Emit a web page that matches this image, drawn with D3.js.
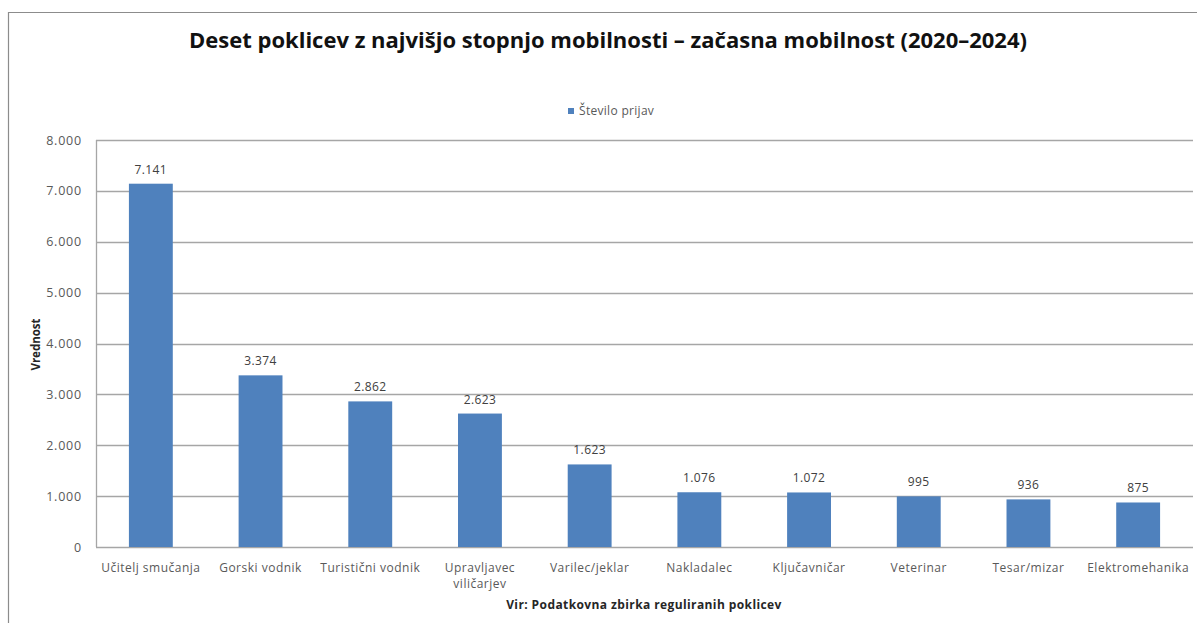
<!DOCTYPE html>
<html>
<head>
<meta charset="utf-8">
<script src="https://cdn.jsdelivr.net/npm/d3@7"></script>
<style>
  body { margin: 0; background: #fff; }
  svg text { font-family: "Open Sans", "Noto Sans", sans-serif; }
</style>
</head>
<body>
<div id="chart"></div>
<script>

// data
const categories = ["Učitelj smučanja", "Gorski vodnik", "Turistični vodnik", "Upravljavec viličarjev",
	"Varilec/jeklar", "Nakladalec", "Ključavničar", "Veterinar", "Tesar/mizar", "Elektromehanika"];
const values = [7141, 3374, 2862, 2623, 1623, 1076, 1072, 995, 936, 875];
const yTicks = [0, 1000, 2000, 3000, 4000, 5000, 6000, 7000, 8000];
const seriesName = "Število prijav";
const titleText = "Deset poklicev z najvišjo stopnjo mobilnosti – začasna mobilnost (2020–2024)";
const yLabel = "Vrednost";
const sourceText = "Vir: Podatkovna zbirka reguliranih poklicev";

const W = 1197, H = 623;
const margin = { top: 140, right: 4, bottom: 76, left: 96 };
const width = W - margin.left - margin.right;
const height = H - margin.top - margin.bottom;

const fmt = v => d3.format(",")(v).replace(/,/g, ".");

let svg = d3.select("#chart").append("svg")
	.attr("width", W)
	.attr("height", H);

// chart frame (left + top edges visible)
svg.append("path")
	.attr("d", "M8.5," + H + "V12.5H" + W)
	.attr("fill", "none")
	.attr("stroke", "#8c8c8c")
	.attr("stroke-width", 1.2);

svg.append("text")
	.attr("x", 608)
	.attr("y", 48)
	.attr("text-anchor", "middle")
	.attr("font-size", 22)
	.attr("font-weight", "bold")
	.attr("fill", "#111")
	.text(titleText);

// legend
svg.append("rect")
	.attr("x", 568).attr("y", 108)
	.attr("width", 6).attr("height", 6)
	.attr("fill", "#4f81bd");
svg.append("text")
	.attr("x", 579).attr("y", 115)
	.attr("font-size", 12)
	.attr("letter-spacing", 0.3)
	.attr("fill", "#595959")
	.text(seriesName);

let g = svg.append("g")
	.attr("transform", "translate(" + margin.left + "," + margin.top + ")");

let x = d3.scaleBand()
	.domain(categories)
	.range([0, width])
	.paddingInner(0.6)
	.paddingOuter(0.3);

let y = d3.scaleLinear()
	.domain([0, 8000])
	.range([height, 0]);

// gridlines
g.selectAll(".grid")
	.data(yTicks)
	.enter()
	.append("line")
	.attr("class", "grid")
	.attr("x1", 0).attr("x2", width)
	.attr("y1", d => Math.round(y(d)) + 0.5)
	.attr("y2", d => Math.round(y(d)) + 0.5)
	.attr("stroke", "#a6a6a6")
	.attr("stroke-width", 1.3);

// y axis line
g.append("line")
	.attr("x1", 0.5).attr("x2", 0.5)
	.attr("y1", 0).attr("y2", height)
	.attr("stroke", "#a6a6a6")
	.attr("stroke-width", 1.3);

// y tick labels
g.selectAll(".ytick")
	.data(yTicks)
	.enter()
	.append("text")
	.attr("class", "ytick")
	.attr("x", -14)
	.attr("y", d => y(d) + 4.5)
	.attr("text-anchor", "end")
	.attr("font-size", 12.5)
	.attr("letter-spacing", 0.8)
	.attr("fill", "#595959")
	.text(d => fmt(d));

// bars
g.selectAll(".bar")
	.data(values)
	.enter()
	.append("rect")
	.attr("class", "bar")
	.attr("x", (d, i) => x(categories[i]))
	.attr("y", d => y(d))
	.attr("width", x.bandwidth())
	.attr("height", d => height - y(d))
	.attr("fill", "#4f81bd");

// value labels
g.selectAll(".vlabel")
	.data(values)
	.enter()
	.append("text")
	.attr("class", "vlabel")
	.attr("x", (d, i) => x(categories[i]) + x.bandwidth() / 2)
	.attr("y", d => y(d) - 10)
	.attr("text-anchor", "middle")
	.attr("font-size", 12)
	.attr("letter-spacing", 0.4)
	.attr("fill", "#404040")
	.text(d => fmt(d));

// category labels (wrap long ones)
let wrapAt = { "Upravljavec viličarjev": ["Upravljavec", "viličarjev"] };
g.selectAll(".xlabel")
	.data(categories)
	.enter()
	.append("text")
	.attr("class", "xlabel")
	.attr("text-anchor", "middle")
	.attr("font-size", 12)
	.attr("letter-spacing", 0.5)
	.attr("fill", "#595959")
	.each(function (d) {
		let lines = wrapAt[d] || [d];
		let t = d3.select(this);
		lines.forEach((l, k) => {
			t.append("tspan")
				.attr("x", x(d) + x.bandwidth() / 2)
				.attr("y", height + 25 + k * 16)
				.text(l);
		});
	});

// axis title
svg.append("text")
	.attr("transform", "translate(40," + (margin.top + height / 2 + 1) + ") rotate(-90)")
	.attr("text-anchor", "middle")
	.attr("font-size", 11.5)
	.attr("font-weight", "bold")
	.attr("fill", "#262626")
	.text(yLabel);

// source note
svg.append("text")
	.attr("x", 644)
	.attr("y", 609)
	.attr("text-anchor", "middle")
	.attr("font-size", 12)
	.attr("letter-spacing", 0.4)
	.attr("font-weight", "bold")
	.attr("fill", "#262626")
	.text(sourceText);

</script>
</body>
</html>
